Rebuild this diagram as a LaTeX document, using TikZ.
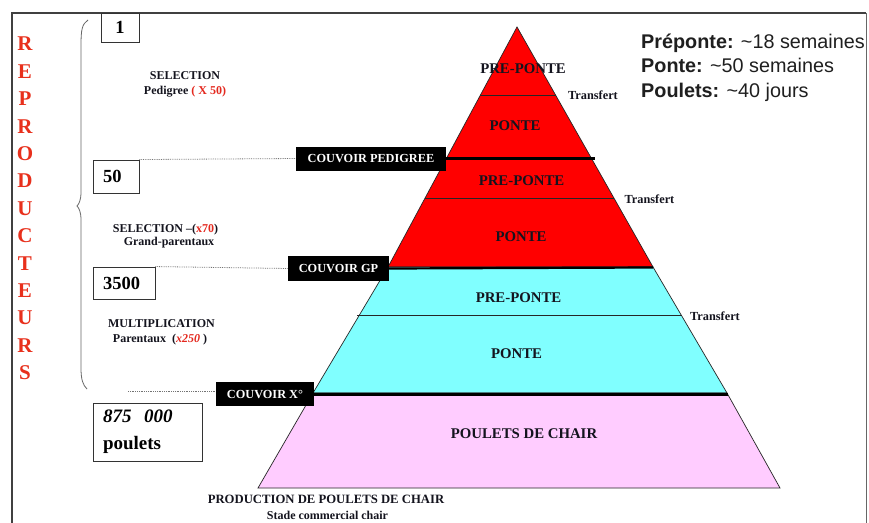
\documentclass[tikz,border=0pt]{standalone}
\usepackage{fontspec}
\setmainfont{Liberation Serif}
\newfontfamily\arialfont{Liberation Sans}
\definecolor{redletter}{RGB}{232,48,28}
\definecolor{tierred}{RGB}{255,0,0}
\definecolor{tiercyan}{RGB}{128,255,255}
\definecolor{tierpink}{RGB}{255,204,255}
\definecolor{multred}{RGB}{228,40,30}
\definecolor{textdark}{RGB}{20,20,30}
\begin{document}
\begin{tikzpicture}[x=1pt,y=-1pt,
  letter/.style={font=\fontsize{21}{21}\selectfont\bfseries, text=redletter, inner sep=0pt},
  numbox/.style={draw=black!80, line width=0.9pt, inner xsep=10pt, inner ysep=0pt, font=\fontsize{18.5}{26}\selectfont\bfseries, align=left},
  couvoir/.style={fill=black, text=white, inner sep=0pt, font=\fontsize{12.3}{12}\selectfont\bfseries},
  lefttext/.style={anchor=base, inner sep=0pt, text=textdark, font=\fontsize{12}{12}\selectfont\bfseries},
  tiertext/.style={anchor=base, inner sep=0pt, text=textdark, font=\fontsize{14.8}{15}\selectfont\bfseries},
  transf/.style={anchor=base, inner sep=0pt, text=textdark, font=\fontsize{12.3}{12}\selectfont\bfseries},
  infotext/.style={anchor=base west, inner sep=0pt, text=black!88, font=\arialfont\fontsize{19.8}{19}\selectfont},
  tierline/.style={draw=black!85, line width=0.7pt},
  thickline/.style={draw=black, line width=3pt},
  guide/.style={draw=black!55, densely dotted, line width=0.8pt}
]
\useasboundingbox (0,0) rectangle (869,522);
\fill[white] (0,0) rectangle (869,522);

% frame
\draw[black!75, line width=1.8pt] (12,540) -- (12,13) -- (866,13);

% brace
\draw[black!60, line width=0.8pt] (88,20) .. controls (82,24) and (81,30) .. (81,45) -- (81,192)
  .. controls (81,200) and (79,204) .. (77,206) .. controls (79,208) and (81,212) .. (81,220)
  -- (81,368) .. controls (81,380) and (83,385) .. (87,389);

% vertical word
\foreach \ch [count=\i] in {R,E,P,R,O,D,U,C,T,E,U,R,S}
  \node[letter] (L\i) at (25,{44+27.4*(\i-1)}) {\ch};

% pyramid tiers
\filldraw[fill=tierred, draw=black!85, line width=0.7pt] (517,27) -- (653,267) -- (388,267) -- cycle;
\filldraw[fill=tiercyan, draw=black!85, line width=0.7pt] (388,267) -- (653,267) -- (727,393) -- (313,393) -- cycle;
\filldraw[fill=tierpink, draw=black!85, line width=0.7pt] (313,393) -- (727,393) -- (780,488) -- (258,488) -- cycle;

% inner tier lines
\coordinate (a1) at (480,95);  \coordinate (a2) at (556,95);
\coordinate (b1) at (425,198); \coordinate (b2) at (614,198);
\coordinate (c1) at (357,315); \coordinate (c2) at (681,315);
\draw[tierline] (a1) -- (a2);
\draw[tierline] (b1) -- (b2);
\draw[tierline] (c1) -- (c2);

% couvoir boxes
\node[couvoir, minimum width=150pt, minimum height=24pt] (cpd) at (371,158.5) {COUVOIR PEDIGREE};
\node[couvoir, minimum width=101pt, minimum height=25pt] (cgp) at (338.5,268.5) {COUVOIR GP};
\node[couvoir, minimum width=98pt, minimum height=24pt] (cx) at (265,394) {COUVOIR X\textdegree};

% thick separators
\coordinate (s1) at (595,158.5);
\coordinate (s2) at (653,267.5);
\coordinate (s3) at (728,394);
\draw[thickline] (cpd.east) -- (s1);
\draw[draw=black, line width=2.2pt] (cgp.east) -- (s2);
\draw[thickline] (cx.east) -- (s3);

% number boxes
\node[numbox, text width=18pt, minimum height=29pt, align=center] (n1) at (120,27.5) {1};
\node[numbox, text width=26pt, minimum height=33pt] (n50) at (116,176.5) {50};
\node[numbox, text width=42pt, minimum height=32pt] (n3500) at (124,283) {3500};
\node[numbox, text width=89pt, minimum height=58pt, font=\fontsize{19}{27}\selectfont\bfseries] (n875) at (147.5,432) {\textit{875\ \ 000}\\poulets};

% dotted guides
\draw[guide] (n50.north east) -- (cpd.west);
\draw[guide] (n3500.north east) -- (cgp.west);
\coordinate (g3) at (128,391);
\draw[guide] (g3) -- (cx.west |- g3);

% left texts
\node[lefttext] (t1) at (185,79) {SELECTION};
\node[lefttext] (t2) at (185,94) {Pedigree \textcolor{multred}{( X 50)}};
\node[lefttext] (t3) at (165.5,232) {SELECTION –(\textcolor{multred}{x70})};
\node[lefttext] (t4) at (169,245) {Grand-parentaux};
\node[lefttext] (t5) at (161.5,327) {MULTIPLICATION};
\node[lefttext] (t6) at (160,342) {Parentaux \ (\textcolor{multred}{\textit{x250}} )};

% tier texts
\node[tiertext] (p1) at (523,73) {PRE-PONTE};
\node[tiertext] (p2) at (515,130) {PONTE};
\node[tiertext] (p3) at (521.5,185) {PRE-PONTE};
\node[tiertext] (p4) at (521,241) {PONTE};
\node[tiertext] (p5) at (518.5,302) {PRE-PONTE};
\node[tiertext] (p6) at (516.5,358) {PONTE};
\node[tiertext] (p7) at (524,438) {POULETS DE CHAIR};

% transfert labels
\node[transf] (tr1) at (593,99) {Transfert};
\node[transf] (tr2) at (649.5,203) {Transfert};
\node[transf] (tr3) at (715,320) {Transfert};

% bottom caption
\node[lefttext, font=\fontsize{12.7}{13}\selectfont\bfseries] (b1t) at (326,503) {PRODUCTION DE POULETS DE CHAIR};
\node[lefttext] (b2t) at (327.5,519) {Stade commercial chair};

% info text
\node[infotext] (i1) at (641,48) {\textbf{Préponte:} \textasciitilde18 semaines};
\node[infotext] (i2) at (641,72.5) {\textbf{Ponte:} \textasciitilde50 semaines};
\node[infotext] (i3) at (641,97) {\textbf{Poulets:} \textasciitilde40 jours};
\fill[white] (867,0) rectangle (869,522);
\draw[black!60, line width=1pt] (866,13) -- (866,540);
\end{tikzpicture}
\end{document}
